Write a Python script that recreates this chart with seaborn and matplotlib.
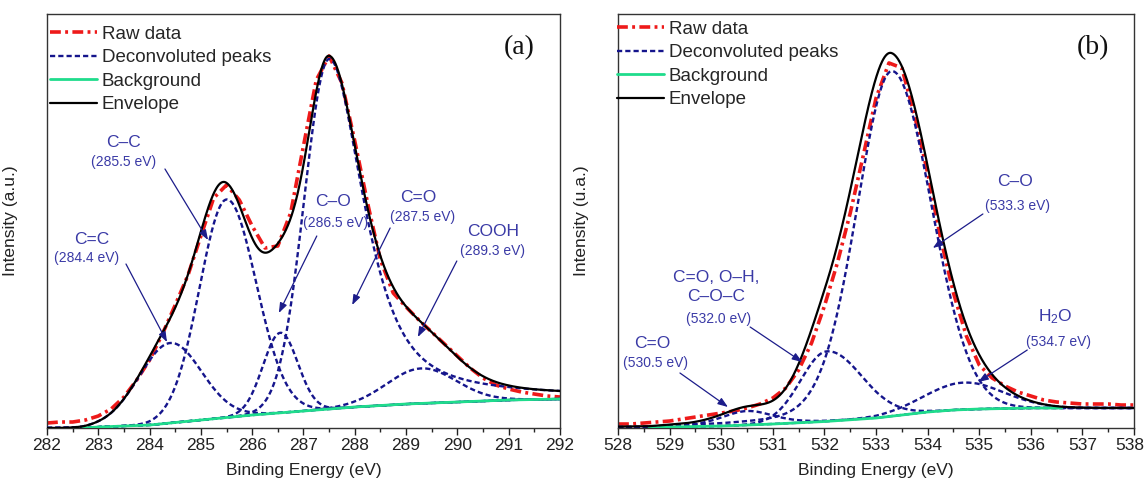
import numpy as np
import matplotlib
matplotlib.use("Agg")
import matplotlib.pyplot as plt
from matplotlib.ticker import MultipleLocator
from matplotlib.transforms import ScaledTranslation
import seaborn as sns

# ---------- (a) C 1s ----------
raw_energy_a = np.arange(282.0, 292.01, 0.25)
raw_counts_a = [5, 6, 6, 8, 12, 19, 31, 48, 68, 94, 123, 153, 192, 230, 243, 228,
                202, 180, 182, 215, 282, 348, 372, 345, 287, 225, 168, 135, 121, 108,
                96, 84, 72, 60, 50, 43, 39, 36, 34, 32, 31]
bg_energy_a = [282.7, 283, 284, 285, 286, 287, 288, 289, 290, 291, 292]
bg_counts_a = [0, 1, 3, 8, 13, 17, 21, 24, 26, 28, 29]

peak_names_a = ["C=C", "C\u2013C", "C\u2013O", "C=O", "COOH"]
peak_labels_a = ["(284.4 eV)", "(285.5 eV)", "(286.5 eV)", "(287.5 eV)", "(289.3 eV)"]
peak_center_a = [284.4, 285.5, 286.55, 287.5, 289.3]
peak_height_a = [80, 218, 80, 350, 35]
peak_hw_left_a = [0.72, 0.62, 0.40, 0.57, 0.80]
peak_hw_right_a = [0.72, 0.68, 0.40, 0.80, 0.80]
peak_lor_left_a = [0, 0, 0, 0, 0]
peak_lor_right_a = [0, 0, 0, 0.75, 0]

# ---------- (b) O 1s ----------
raw_energy_b = np.arange(528.0, 538.01, 0.25)
raw_counts_b = [4, 4, 5, 6, 7, 9, 11, 13, 15, 17, 20, 24, 30, 40, 58, 85,
                122, 165, 215, 272, 330, 365, 360, 312, 255, 190, 135, 92, 63, 50,
                42, 36, 32, 28, 26, 25, 24, 24, 24, 23, 23]
bg_energy_b = [528.6, 529, 530, 531, 532, 533, 533.5, 534, 534.5, 535, 536, 536.6]
bg_counts_b = [0, 1, 2, 4, 6.5, 10, 13, 16, 18, 19, 20, 20]

peak_names_b = ["C=O", "C=O, O\u2013H,\nC\u2013O\u2013C", "C\u2013O", "H$_2$O"]
peak_labels_b = ["(530.5 eV)", "(532.0 eV)", "(533.3 eV)", "(534.7 eV)"]
peak_center_b = [530.5, 532.05, 533.3, 534.7]
peak_height_b = [14, 70, 345, 27]
peak_hw_left_b = [0.60, 0.60, 0.80, 0.90]
peak_hw_right_b = [0.60, 0.80, 0.90, 0.90]
peak_lor_left_b = [0.3, 0, 0.15, 0]
peak_lor_right_b = [0.3, 0, 0, 0]

# annotation layout: name pos, energy pos, arrow start, arrow tip (data coords)
notes_a = [((282.88, 188), (282.78, 170), (283.54, 164), (284.34, 86)),
           ((283.50, 285), (283.50, 266), (284.30, 259), (285.14, 188)),
           ((287.58, 226), (287.62, 205), (287.26, 192), (286.52, 115)),
           ((289.23, 230), (289.33, 211), (288.69, 200), (287.95, 123)),
           ((290.69, 196), (290.69, 177), (289.99, 167), (289.23, 91))]
notes_b = [((528.66, 85), (528.72, 65), (529.20, 55), (530.13, 21)),
           ((529.90, 141), (529.94, 109), (530.56, 101), (531.57, 66)),
           ((535.69, 246), (535.75, 222), (535.07, 214), (534.10, 180)),
           ((536.47, 111), (536.53, 86), (535.93, 78), (534.98, 46))]

RAW_RED = "#ee1a1a"
PEAK_BLUE = "#15158c"
BG_GREEN = "#1fdc8c"
NOTE_BLUE = "#3a3aa6"
ARROW_BLUE = "#1c1c8a"

sns.set_style("ticks")
plt.rcParams["font.family"] = ["Liberation Sans", "DejaVu Sans"]
plt.rcParams["mathtext.fontset"] = "custom"
plt.rcParams["mathtext.rm"] = "Liberation Sans"
plt.rcParams["mathtext.it"] = "Liberation Sans:italic"


def peak_shape(e, center, height, hw_l, hw_r, lor_l, lor_r):
    left = e < center
    hw = np.where(left, hw_l, hw_r)
    eta = np.where(left, lor_l, lor_r)
    x = (e - center) / hw
    return height * ((1 - eta) * np.exp(-np.log(2) * x ** 2) + eta / (1 + x ** 2))


def draw_panel(ax, raw_e, raw_c, bg_e, bg_c, centers, heights, hwl, hwr, ll, lr,
               names, labels, notes, xmin, xmax, ylabel, tag, legend_anchor):
    grid = np.linspace(xmin, xmax, 1201)
    bg = np.interp(grid, bg_e, bg_c, left=0)
    comps = [peak_shape(grid, *p) for p in zip(centers, heights, hwl, hwr, ll, lr)]
    envelope = bg + np.sum(comps, axis=0)

    sns.lineplot(x=raw_e, y=raw_c, ax=ax, color=RAW_RED, lw=2.6,
                 linestyle=(0, (3, 1.2, 0.8, 1.2)), label="Raw data", zorder=2)
    for k, comp in enumerate(comps):
        sns.lineplot(x=grid, y=bg + comp, ax=ax, color=PEAK_BLUE, lw=1.7,
                     linestyle=(0, (2.2, 1.3)),
                     label="Deconvoluted peaks" if k == 0 else "_nolegend_", zorder=3)
    sns.lineplot(x=bg_e, y=bg_c, ax=ax, color=BG_GREEN, lw=2.0,
                 label="Background", zorder=3)
    sns.lineplot(x=grid, y=envelope, ax=ax, color="black", lw=1.6,
                 label="Envelope", zorder=4)

    for name, lab, (name_xy, en_xy, a_from, a_to) in zip(names, labels, notes):
        ax.text(*name_xy, name, color=NOTE_BLUE, fontsize=12.5, ha="center",
                va="center", zorder=1, linespacing=1.3)
        ax.text(*en_xy, lab, color=NOTE_BLUE, fontsize=10, ha="center",
                va="center", zorder=1)
        ax.annotate("", xy=a_to, xytext=a_from, zorder=5,
                    arrowprops=dict(arrowstyle="-|>,head_length=0.6,head_width=0.22",
                                    color=ARROW_BLUE, lw=0.9, shrinkA=0, shrinkB=0))

    ax.text(0.92, 0.918, tag, transform=ax.transAxes, fontsize=20,
            family="Liberation Serif", ha="center", va="center", color="#111111")

    ax.set_xlim(xmin, xmax)
    ax.set_ylim(0, 414)
    ax.set_xticks(np.arange(xmin, xmax + 1, 1))
    ax.xaxis.set_minor_locator(MultipleLocator(0.5))
    ax.set_yticks([])
    ax.tick_params(axis="x", which="major", direction="out", length=5, width=1,
                   labelsize=12.5, pad=2, colors="#222222")
    ax.tick_params(axis="x", which="minor", direction="out", length=3, width=1)
    for sp in ax.spines.values():
        sp.set_linewidth(1.0)
        sp.set_color("#333333")
    ax.set_xlabel("Binding Energy (eV)", fontsize=12.5, color="#222222")
    ax.set_ylabel(ylabel, fontsize=12.5, color="#222222")
    ax.xaxis.set_label_coords(0.5, -0.085)
    ax.yaxis.set_label_coords(-0.057, 0.5)
    ax.legend(loc="upper left", bbox_to_anchor=legend_anchor, frameon=False,
              fontsize=13.5, handlelength=2.5, handletextpad=0.27, labelspacing=0.34,
              borderaxespad=0, borderpad=0.2)


fig = plt.figure(figsize=(11.46, 4.9), dpi=100)
ax_a = fig.add_axes([0.041, 0.1265, 0.4476, 0.845])
ax_b = fig.add_axes([0.5393, 0.1265, 0.4503, 0.845])

draw_panel(ax_a, raw_energy_a, raw_counts_a, bg_energy_a, bg_counts_a,
           peak_center_a, peak_height_a, peak_hw_left_a, peak_hw_right_a,
           peak_lor_left_a, peak_lor_right_a, peak_names_a, peak_labels_a, notes_a,
           282, 292, "Intensity (a.u.)", "(a)", (-0.002, 0.981))
draw_panel(ax_b, raw_energy_b, raw_counts_b, bg_energy_b, bg_counts_b,
           peak_center_b, peak_height_b, peak_hw_left_b, peak_hw_right_b,
           peak_lor_left_b, peak_lor_right_b, peak_names_b, peak_labels_b, notes_b,
           528, 538, "Intensity (u.a.)", "(b)", (-0.01, 0.993))

# keep the last tick label of (b) inside the figure edge
fig.canvas.draw()
last = ax_b.xaxis.get_major_ticks()[-1].label1
last.set_transform(last.get_transform() + ScaledTranslation(-3 / 72, 0, fig.dpi_scale_trans))

fig.savefig("out.png", dpi=100)
